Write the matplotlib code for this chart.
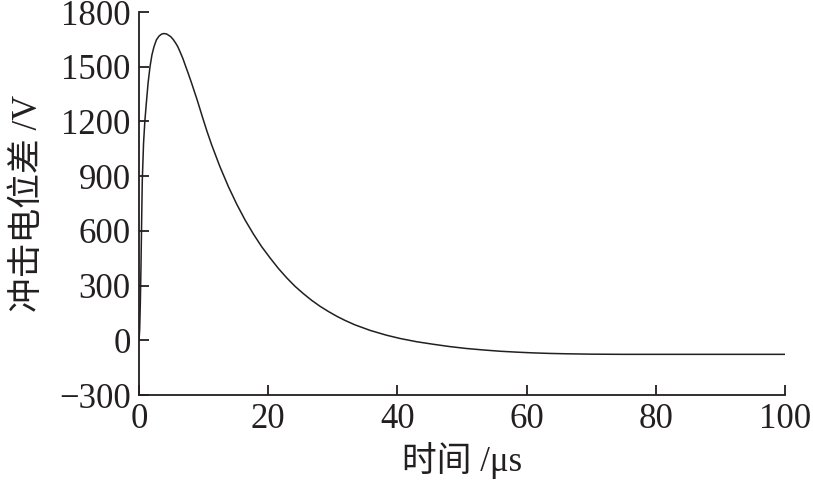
import matplotlib.pyplot as plt

# time in microseconds, voltage in volts
t = [0, 0.1, 0.2, 0.3, 0.4, 0.5, 0.7, 0.9, 1.13, 1.4, 1.7, 2.0, 2.32, 2.7,
     3.1, 3.5, 3.87, 4.3, 4.9, 5.3, 5.68, 6.0, 6.4, 6.8, 7.22, 7.6, 8.1,
     9.0, 9.8, 10.5, 11.25, 12.5, 13.83, 15.1, 16.41, 17.7, 18.99, 20.3,
     21.57, 22.9, 24.15, 25.4, 26.73, 28.0, 29.31, 30.6, 31.89, 33.4, 35.8,
     38.3, 40.4, 43.0, 45.6, 48.0, 50.7, 53.3, 55.9, 58.5, 61.0, 63.6, 66.2,
     70, 75, 80, 85, 90, 95, 100]
v = [0, 60, 200, 400, 640, 870, 1080, 1200, 1300, 1410, 1500, 1565, 1610, 1648,
     1668, 1679, 1682, 1679, 1665, 1649, 1629, 1610, 1578, 1544, 1502, 1465, 1414,
     1318, 1226, 1148, 1071, 954, 843, 748, 660, 583, 513, 451,
     394, 341, 296, 257, 219, 187, 158, 132, 109, 85, 54,
     28, 10, -8, -22, -34, -45, -53, -60, -65, -69, -72, -74,
     -76, -77, -77, -77, -77, -77, -77]

xticks = [0, 20, 40, 60, 80, 100]
yticks = [-300, 0, 300, 600, 900, 1200, 1500, 1800]

fonts = ['Liberation Serif', 'Noto Sans CJK SC']
plt.rcParams['font.family'] = fonts

fig = plt.figure(figsize=(8.13, 4.96), dpi=100)
ax = fig.add_axes([0.171, 0.2036, 0.7946, 0.7722])
ax.plot(t, v, color='#231f20', lw=1.1)

ax.set_xlim(0, 100)
ax.set_ylim(-300, 1800)
ax.set_xticks(xticks)
ax.set_yticks(yticks)
ax.set_yticklabels([str(y).replace('-', '\u2212') for y in yticks])
ax.tick_params(direction='in', length=7, width=1.3, labelsize=25,
               colors='#231f20', pad=6)
for s in ['top', 'right']:
    ax.spines[s].set_visible(False)
for s in ['left', 'bottom']:
    ax.spines[s].set_linewidth(1.3)
    ax.spines[s].set_color('#231f20')

ax.set_xlabel('时间 /μs', fontsize=25, color='#231f20', labelpad=4)
ax.set_ylabel('冲击电位差 /V', fontsize=25, color='#231f20', labelpad=10)

fig.savefig('out.png', dpi=100)
